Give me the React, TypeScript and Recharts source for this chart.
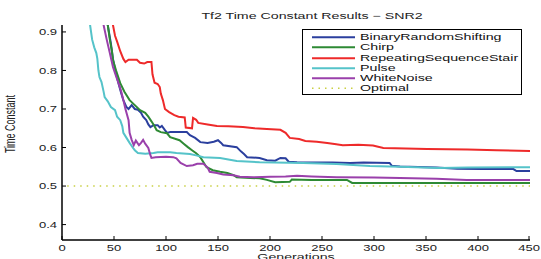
import React from 'react';
import { LineChart, Line, XAxis, YAxis, Legend, Customized } from 'recharts';

const FONT = '"Liberation Sans", Arial, Helvetica, sans-serif';
const SX_TICK = 1.45;
const SX_TEXT = 1.58;

const xTicks = [0, 50, 100, 150, 200, 250, 300, 350, 400, 450];
const yTicks = [0.4, 0.45, 0.5, 0.55, 0.6, 0.65, 0.7, 0.75, 0.8, 0.85, 0.9];

const seriesNames = ['BinaryRandomShifting', 'Chirp', 'RepeatingSequenceStair', 'Pulse', 'WhiteNoise', 'Optimal'];
const seriesColors = ['#2b3f9e', '#2e8a34', '#ee2a2a', '#55c3c9', '#9a40ab', '#c9d043'];

// [generation, time constant]
const binaryRandomShifting: [number, number][] = [
  [0, 1.3], [40, 0.97], [44, 0.918], [47, 0.87], [49, 0.83], [52, 0.79], [55, 0.76], [57, 0.74], [59, 0.723],
  [62, 0.705], [64, 0.7], [67, 0.71], [70, 0.7], [73, 0.698], [76, 0.69], [78, 0.68], [81, 0.671], [83, 0.66],
  [85, 0.653], [88, 0.658], [92, 0.658], [94, 0.652], [96, 0.656], [99, 0.645], [101, 0.638], [104, 0.64],
  [120, 0.64], [123, 0.632], [128, 0.625], [133, 0.614], [140, 0.612], [146, 0.615], [150, 0.619], [153, 0.612],
  [155, 0.606], [168, 0.601], [172, 0.59], [175, 0.583], [178, 0.575], [190, 0.573], [197, 0.567], [205, 0.566],
  [210, 0.573], [215, 0.572], [218, 0.563], [226, 0.562], [260, 0.561], [277, 0.56], [290, 0.561], [315, 0.56],
  [317, 0.553], [325, 0.551], [360, 0.548], [380, 0.545], [405, 0.544], [434, 0.544], [437, 0.539], [450, 0.539],
];

const chirp: [number, number][] = [
  [0, 1.3], [40, 0.97], [44, 0.918], [46, 0.88], [48, 0.85], [49, 0.827], [52, 0.8], [56, 0.767], [60, 0.745],
  [65, 0.723], [70, 0.71], [75, 0.697], [80, 0.69], [83, 0.68], [86, 0.668], [89, 0.655], [91, 0.645], [95, 0.64],
  [101, 0.637], [104, 0.627], [113, 0.619], [117, 0.61], [121, 0.601], [125, 0.593], [129, 0.585], [133, 0.575],
  [136, 0.562], [139, 0.549], [145, 0.541], [152, 0.537], [159, 0.534], [165, 0.528], [168, 0.523], [181, 0.521],
  [190, 0.52], [197, 0.516], [205, 0.51], [219, 0.511], [221, 0.517], [240, 0.516], [274, 0.516], [279, 0.508],
  [325, 0.508], [450, 0.508],
];

const repeatingSequenceStair: [number, number][] = [
  [0, 1.3], [46, 0.97], [49, 0.918], [51, 0.89], [53, 0.875], [56, 0.85], [59, 0.83], [61, 0.822], [64, 0.828],
  [72, 0.828], [75, 0.82], [79, 0.818], [82, 0.822], [86, 0.822], [87, 0.79], [89, 0.768], [92, 0.765],
  [94, 0.757], [95, 0.74], [97, 0.723], [99, 0.7], [103, 0.692], [108, 0.684], [112, 0.68], [118, 0.678],
  [119, 0.652], [125, 0.65], [126, 0.677], [129, 0.672], [131, 0.664], [140, 0.66], [149, 0.656], [160, 0.655],
  [174, 0.653], [185, 0.65], [197, 0.648], [210, 0.646], [215, 0.638], [219, 0.625], [228, 0.622], [234, 0.617],
  [245, 0.615], [255, 0.612], [262, 0.609], [270, 0.606], [285, 0.607], [299, 0.605], [309, 0.599], [320, 0.598],
  [351, 0.596], [390, 0.595], [418, 0.593], [450, 0.591],
];

const pulse: [number, number][] = [
  [0, 1.3], [24, 0.97], [27, 0.918], [29, 0.88], [31, 0.86], [33, 0.845], [34, 0.83], [35, 0.8], [36, 0.783],
  [38, 0.77], [40, 0.745], [41, 0.731], [44, 0.72], [47, 0.705], [51, 0.697], [53, 0.68], [56, 0.671], [58, 0.655],
  [59, 0.638], [62, 0.625], [65, 0.612], [68, 0.6], [70, 0.593], [73, 0.586], [80, 0.584], [88, 0.586], [92, 0.588],
  [104, 0.588], [110, 0.586], [123, 0.583], [130, 0.579], [136, 0.575], [152, 0.573], [160, 0.569], [168, 0.565],
  [190, 0.562], [232, 0.56], [264, 0.557], [296, 0.552], [325, 0.55], [363, 0.547], [390, 0.548], [450, 0.549],
];

const whiteNoise: [number, number][] = [
  [0, 1.3], [37, 0.97], [40, 0.918], [43, 0.88], [46, 0.845], [49, 0.809], [52, 0.785], [55, 0.762], [57, 0.745],
  [59, 0.723], [61, 0.7], [64, 0.671], [65, 0.638], [67, 0.62], [69, 0.606], [71, 0.618], [72, 0.614], [74, 0.606],
  [76, 0.612], [78, 0.62], [80, 0.61], [83, 0.599], [85, 0.58], [86, 0.573], [90, 0.575], [100, 0.576], [107, 0.575],
  [110, 0.572], [114, 0.56], [120, 0.552], [126, 0.554], [130, 0.558], [136, 0.558], [140, 0.548], [142, 0.537],
  [149, 0.534], [155, 0.53], [165, 0.528], [171, 0.524], [184, 0.523], [200, 0.524], [215, 0.525], [226, 0.527],
  [240, 0.525], [264, 0.523], [300, 0.522], [325, 0.521], [360, 0.519], [389, 0.516], [450, 0.516],
];

const optimal: [number, number][] = [[5, 0.5], [450, 0.5]];

const allSeries = [binaryRandomShifting, chirp, repeatingSequenceStair, pulse, whiteNoise, optimal];

const toPts = (arr: [number, number][]) => arr.map(([g, v]) => ({ g, v }));

const YTick = (props: any) => {
  const { x, y, payload } = props;
  return (
    <g>
      <line x1={x + 5} y1={y} x2={x + 9} y2={y} stroke="#000" strokeWidth={1} />
      <text
        transform={`translate(${x},${y}) scale(${SX_TICK},1)`}
        textAnchor="end"
        dy="0.35em"
        fontSize={9}
        fontFamily={FONT}
        fill="#222"
      >
        {String(payload.value)}
      </text>
    </g>
  );
};

const XTick = (props: any) => {
  const { x, y, payload } = props;
  return (
    <g>
      <line x1={x} y1={y - 8} x2={x} y2={y - 12} stroke="#000" strokeWidth={1} />
      <text
        transform={`translate(${x},${y}) scale(${SX_TICK},1)`}
        textAnchor="middle"
        dy="0.35em"
        fontSize={9}
        fontFamily={FONT}
        fill="#222"
      >
        {String(payload.value)}
      </text>
    </g>
  );
};

const TopTick = (props: any) => {
  const { x, y } = props;
  return <line x1={x} y1={y} x2={x} y2={y + 4} stroke="#000" strokeWidth={1} />;
};

const RightTick = (props: any) => {
  const { x, y } = props;
  return <line x1={x - 4} y1={y} x2={x} y2={y} stroke="#000" strokeWidth={1} />;
};

const Texts = () => (
  <g fontFamily={FONT} fill="#222">
    <text transform={`translate(312,19) scale(${SX_TEXT},1)`} textAnchor="middle" fontSize={9}>
      Tf2 Time Constant Results − SNR2
    </text>
    <text transform={`translate(296,259.5) scale(${SX_TEXT},1)`} textAnchor="middle" fontSize={9}>
      Generations
    </text>
    <text transform={`translate(15,124) scale(${SX_TEXT},1) rotate(-90)`} textAnchor="middle" fontSize={9}>
      Time Constant
    </text>
  </g>
);

const LegendBox = () => (
  <div
    style={{
      width: 218,
      height: 62,
      border: '1px solid #000',
      background: '#fff',
      paddingTop: 2,
      boxSizing: 'content-box',
      fontFamily: FONT,
      fontSize: 9,
      color: '#111',
    }}
  >
    {seriesNames.map((name, i) => (
      <div key={name} style={{ height: 10.3, position: 'relative' }}>
        <svg width={50} height={10.3} style={{ position: 'absolute', left: 9, top: 0 }}>
          <line
            x1={0}
            y1={5.2}
            x2={43}
            y2={5.2}
            stroke={seriesColors[i]}
            strokeWidth={i === 5 ? 1.5 : 2}
            strokeDasharray={i === 5 ? '1.5 5' : undefined}
          />
        </svg>
        <span
          style={{
            position: 'absolute',
            left: 57,
            top: 0,
            lineHeight: '10.3px',
            whiteSpace: 'nowrap',
            transform: `scaleX(${SX_TEXT})`,
            transformOrigin: 'left center',
          }}
        >
          {name}
        </span>
      </div>
    ))}
  </div>
);

export default function App() {
  return (
    <div style={{ position: 'absolute', left: 0, top: 0, width: 541, height: 259, background: '#fff' }}>
      <LineChart width={541} height={259} margin={{ top: 25, right: 11, bottom: 0, left: 0 }}>
        <XAxis
          dataKey="g"
          type="number"
          domain={[0, 450]}
          ticks={xTicks}
          height={19}
          tickSize={0}
          tickMargin={8}
          tickLine={false}
          tick={<XTick />}
          axisLine={{ stroke: '#000', strokeWidth: 1.5 }}
          allowDataOverflow
        />
        <XAxis
          xAxisId="top"
          orientation="top"
          dataKey="g"
          type="number"
          domain={[0, 450]}
          ticks={xTicks}
          height={0}
          tickSize={0}
          tickMargin={0}
          tickLine={false}
          tick={<TopTick />}
          axisLine={{ stroke: '#000', strokeWidth: 1 }}
        />
        <YAxis
          type="number"
          domain={[0.36, 0.918]}
          ticks={yTicks}
          width={62}
          tickSize={0}
          tickMargin={5}
          tickLine={false}
          tick={<YTick />}
          axisLine={{ stroke: '#000', strokeWidth: 1.5 }}
          allowDataOverflow
        />
        <YAxis
          yAxisId="right"
          orientation="right"
          type="number"
          domain={[0.36, 0.918]}
          ticks={yTicks}
          width={0}
          tickSize={0}
          tickMargin={0}
          tickLine={false}
          tick={<RightTick />}
          axisLine={{ stroke: '#000', strokeWidth: 1 }}
          allowDataOverflow
        />
        {allSeries.map((s, i) => (
          <Line
            key={seriesNames[i]}
            name={seriesNames[i]}
            data={toPts(s)}
            dataKey="v"
            type="linear"
            stroke={seriesColors[i]}
            strokeWidth={i === 5 ? 1.5 : 2}
            strokeDasharray={i === 5 ? '1.5 5' : undefined}
            dot={false}
            activeDot={false}
            isAnimationActive={false}
          />
        ))}
        <Legend
          layout="vertical"
          align="center"
          verticalAlign="middle"
          content={<LegendBox />}
          wrapperStyle={{ left: 302, top: 29, width: 220, height: 64 }}
        />
        <Customized component={Texts} />
      </LineChart>
    </div>
  );
}
